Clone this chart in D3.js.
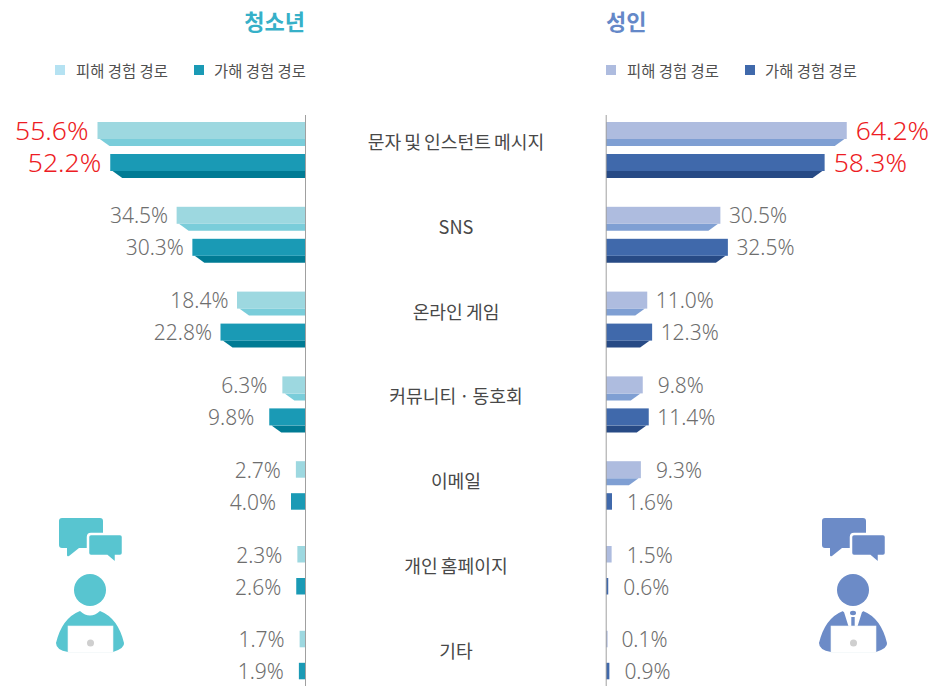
<!DOCTYPE html>
<html><head><meta charset="utf-8">
<script src="https://cdnjs.cloudflare.com/ajax/libs/d3/7.8.5/d3.min.js"></script>
<style>html,body{margin:0;padding:0;background:#fff}svg{display:block}
text{font-family:"Noto Sans CJK KR","Noto Sans",sans-serif}
.num{font-family:"Noto Sans","Open Sans",sans-serif;font-weight:300}</style></head><body>
<svg id="c" width="931" height="686"></svg>
<script>
const categories=["문자 및 인스턴트 메시지","SNS","온라인 게임","커뮤니티 · 동호회","이메일","개인 홈페이지","기타"];
const teenVictim=[55.6,34.5,18.4,6.3,2.7,2.3,1.7];
const teenOffender=[52.2,30.3,22.8,9.8,4.0,2.6,1.9];
const adultVictim=[64.2,30.5,11.0,9.8,9.3,1.5,0.1];
const adultOffender=[58.3,32.5,12.3,11.4,1.6,0.6,0.9];
const legendLabels=["피해 경험 경로","가해 경험 경로"];
const titles=["청소년","성인"];

const svg=d3.select("#c");
const unit=3.75;
const yBand=d3.scaleBand().domain(categories).range([122,122+84.8*7]).paddingInner(0).paddingOuter(0);
const sub=d3.scalePoint().domain([0,1]).range([0,32]);
const wTeen=d3.scaleLinear().domain([0,100]).range([306,306-100*unit]);
const wAdult=d3.scaleLinear().domain([0,100]).range([606,606+100*unit]);
const face=17,bev=7,bevTop=2.3,bevIn=12;

function series(vals,scale,idx,colFront,colBevel){
  const dir=scale(1)>scale(0)?1:-1, x0=scale(0);
  const g=svg.append("g");
  vals.forEach((v,i)=>{
    const y=yBand(categories[i])+sub(idx);
    const xe=dir>0?Math.max(scale(v),x0+1.6):Math.min(scale(v),x0-1.6);
    const hasBevel=v>5;
    if(hasBevel){
      g.append("path").attr("fill",colBevel)
       .attr("d",d3.line()([[x0,y+face],[xe-dir*bevTop,y+face],[xe-dir*bevIn,y+face+bev],[x0,y+face+bev]])+"Z");
    }
    g.append("rect").attr("x",Math.min(x0,xe)).attr("y",y)
     .attr("width",Math.abs(xe-x0)).attr("height",hasBevel?face:16.5).attr("fill",colFront);
    const big=i===0, gap=big?9:(v>=10?8.5:15);
    g.append("text").attr("class","num").attr("x",scale(v)+dir*gap).attr("y",y+(big?8:9))
     .attr("dy","0.36em").attr("text-anchor",dir>0?"start":"end")
     .attr("fill",big?"#ED1C24":"#6E6E6E").attr("font-size",big?26.5:21)
     .text(v.toFixed(1)+"%");
  });
}
series(teenVictim,wTeen,0,"#9DD8E0","#7ACDDA");
series(teenOffender,wTeen,1,"#1A9AB5","#007B94");
series(adultVictim,wAdult,0,"#AEBCDF","#7F9FD3");
series(adultOffender,wAdult,1,"#4069AB","#274A85");

[305.5,606.2].forEach(x=>svg.append("line").attr("x1",x).attr("x2",x).attr("y1",115).attr("y2",686).attr("stroke","#A0A0A0").attr("stroke-width",1));

categories.forEach(c=>{
  svg.append("text").attr("x",456).attr("y",yBand(c)+20.5).attr("dy","0.36em").attr("text-anchor","middle")
   .attr("fill","#484848").attr("font-size",18.2).attr("word-spacing",-1).text(c);
});

svg.append("text").attr("x",305).attr("y",30).attr("text-anchor","end").attr("fill","#36B0C8").attr("font-size",22).attr("font-weight",700).text(titles[0]);
svg.append("text").attr("x",606).attr("y",30).attr("fill","#6488C8").attr("font-size",22).attr("font-weight",700).text(titles[1]);

function legend(x,gap,col,label){
  svg.append("rect").attr("x",x).attr("y",65).attr("width",10).attr("height",10).attr("fill",col);
  svg.append("text").attr("x",x+gap).attr("y",71).attr("dy","0.36em").attr("fill","#505050").attr("font-size",15.4).text(label);
}
legend(55,21,"#B5E2F2",legendLabels[0]);
legend(194,20,"#1A9AB5",legendLabels[1]);
legend(606,21,"#AEBCDF",legendLabels[0]);
legend(745,20,"#4069AB",legendLabels[1]);

function icon(dx,col,suit){
  const g=svg.append("g").attr("transform",`translate(${dx},0)`);
  g.append("path").attr("fill",col).attr("d","M62,518H100Q103,518 103,521V545Q103,548 100,548H79L69,556Q67,557 67,555V548H62Q59,548 59,545V521Q59,518 62,518Z");
  g.append("path").attr("fill",col).attr("stroke","#fff").attr("stroke-width",2.5).attr("d","M91,534H120Q123,534 123,537V553Q123,556 120,556H116V561Q116,563 114,562L107,556H91Q88,556 88,553V537Q88,534 91,534Z");
  g.append("circle").attr("cx",90).attr("cy",590).attr("r",16).attr("fill",col);
  g.append("path").attr("fill",col).attr("d","M56,643Q62,618 80,611Q90,620 100,611Q118,618 124,643Q125,648 113,652L68,652Q56,650 56,643Z");
  if(suit){
    g.append("path").attr("fill","#fff").attr("d","M78,610L90,609L102,610L99,612L94,628H86L81,612Z");
    g.append("ellipse").attr("cx",90).attr("cy",613).attr("rx",3).attr("ry",2.2).attr("fill",col);
    g.append("rect").attr("x",88.3).attr("y",617).attr("width",3.4).attr("height",11).attr("fill",col);
  }
  g.append("rect").attr("x",68).attr("y",626).attr("width",45).attr("height",26.5).attr("fill","#fff").attr("stroke","#eef5f7").attr("stroke-width",0.6);
  g.append("circle").attr("cx",90.5).attr("cy",643).attr("r",3.5).attr("fill","#CFCFCF");
}
icon(0,"#58C5D0",false);
icon(763,"#6C8BC7",true);
</script></body></html>
